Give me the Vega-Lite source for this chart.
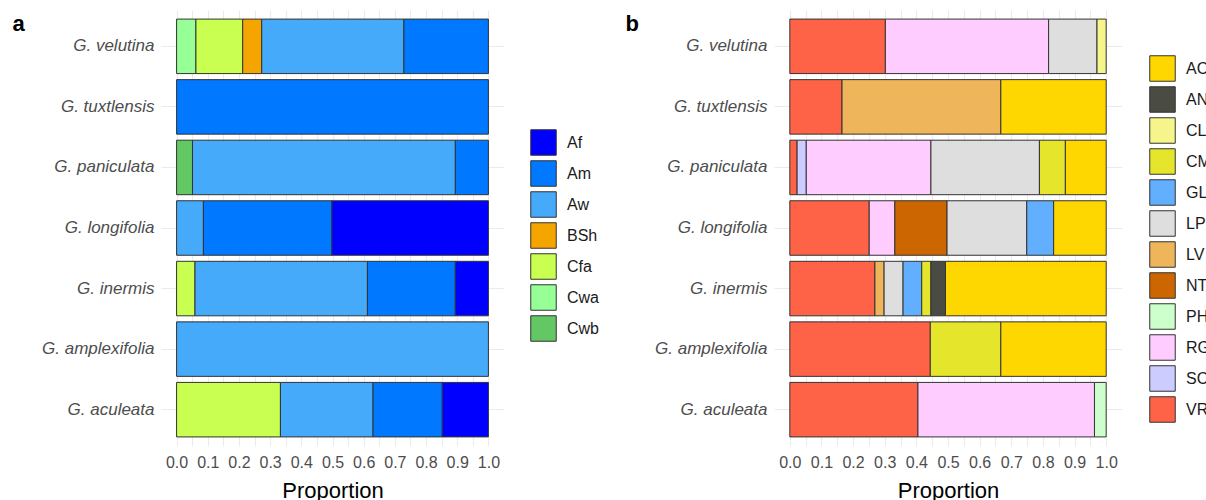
{
  "$schema": "https://vega.github.io/schema/vega-lite/v6.json",
  "background": "white",
  "padding": {"left": 12, "top": 10, "right": 0, "bottom": 0},
  "spacing": 25,
  "config": {
    "font": "Liberation Sans",
    "view": {"stroke": null},
    "axis": {"domain": false, "ticks": false, "tickSize": 0, "gridColor": "#ebebeb", "gridWidth": 1.1}
  },
  "datasets": {
    "climate": [
      {"species": "G. velutina", "climate": "Cwa", "proportion": 0.062},
      {"species": "G. velutina", "climate": "Cfa", "proportion": 0.150},
      {"species": "G. velutina", "climate": "BSh", "proportion": 0.061},
      {"species": "G. velutina", "climate": "Aw", "proportion": 0.456},
      {"species": "G. velutina", "climate": "Am", "proportion": 0.271},
      {"species": "G. tuxtlensis", "climate": "Am", "proportion": 1.0},
      {"species": "G. paniculata", "climate": "Cwb", "proportion": 0.051},
      {"species": "G. paniculata", "climate": "Aw", "proportion": 0.843},
      {"species": "G. paniculata", "climate": "Am", "proportion": 0.106},
      {"species": "G. longifolia", "climate": "Aw", "proportion": 0.086},
      {"species": "G. longifolia", "climate": "Am", "proportion": 0.412},
      {"species": "G. longifolia", "climate": "Af", "proportion": 0.502},
      {"species": "G. inermis", "climate": "Cfa", "proportion": 0.059},
      {"species": "G. inermis", "climate": "Aw", "proportion": 0.553},
      {"species": "G. inermis", "climate": "Am", "proportion": 0.282},
      {"species": "G. inermis", "climate": "Af", "proportion": 0.106},
      {"species": "G. amplexifolia", "climate": "Aw", "proportion": 1.0},
      {"species": "G. aculeata", "climate": "Cfa", "proportion": 0.333},
      {"species": "G. aculeata", "climate": "Aw", "proportion": 0.297},
      {"species": "G. aculeata", "climate": "Am", "proportion": 0.222},
      {"species": "G. aculeata", "climate": "Af", "proportion": 0.148}
    ],
    "soil": [
      {"species": "G. velutina", "soil": "VR", "proportion": 0.302},
      {"species": "G. velutina", "soil": "RG", "proportion": 0.516},
      {"species": "G. velutina", "soil": "LP", "proportion": 0.153},
      {"species": "G. velutina", "soil": "CL", "proportion": 0.029},
      {"species": "G. tuxtlensis", "soil": "VR", "proportion": 0.165},
      {"species": "G. tuxtlensis", "soil": "LV", "proportion": 0.502},
      {"species": "G. tuxtlensis", "soil": "AC", "proportion": 0.333},
      {"species": "G. paniculata", "soil": "VR", "proportion": 0.023},
      {"species": "G. paniculata", "soil": "SC", "proportion": 0.029},
      {"species": "G. paniculata", "soil": "RG", "proportion": 0.394},
      {"species": "G. paniculata", "soil": "LP", "proportion": 0.343},
      {"species": "G. paniculata", "soil": "CM", "proportion": 0.082},
      {"species": "G. paniculata", "soil": "AC", "proportion": 0.129},
      {"species": "G. longifolia", "soil": "VR", "proportion": 0.251},
      {"species": "G. longifolia", "soil": "RG", "proportion": 0.081},
      {"species": "G. longifolia", "soil": "NT", "proportion": 0.165},
      {"species": "G. longifolia", "soil": "LP", "proportion": 0.252},
      {"species": "G. longifolia", "soil": "GL", "proportion": 0.085},
      {"species": "G. longifolia", "soil": "AC", "proportion": 0.166},
      {"species": "G. inermis", "soil": "VR", "proportion": 0.269},
      {"species": "G. inermis", "soil": "LV", "proportion": 0.029},
      {"species": "G. inermis", "soil": "LP", "proportion": 0.060},
      {"species": "G. inermis", "soil": "GL", "proportion": 0.059},
      {"species": "G. inermis", "soil": "CM", "proportion": 0.029},
      {"species": "G. inermis", "soil": "AN", "proportion": 0.046},
      {"species": "G. inermis", "soil": "AC", "proportion": 0.508},
      {"species": "G. amplexifolia", "soil": "VR", "proportion": 0.444},
      {"species": "G. amplexifolia", "soil": "CM", "proportion": 0.223},
      {"species": "G. amplexifolia", "soil": "AC", "proportion": 0.333},
      {"species": "G. aculeata", "soil": "VR", "proportion": 0.405},
      {"species": "G. aculeata", "soil": "RG", "proportion": 0.558},
      {"species": "G. aculeata", "soil": "PH", "proportion": 0.037}
    ]
  },
  "hconcat": [
    {
      "width": 343,
      "height": 436,
      "data": {"name": "climate"},
      "mark": {"type": "bar", "stroke": "#333333", "strokeWidth": 1},
      "encoding": {
        "y": {
          "field": "species", "type": "nominal", "sort": "descending",
          "scale": {"paddingInner": 0.1, "paddingOuter": 0.15},
          "axis": {
            "grid": true, "bandPosition": 0.5,
            "labelFontSize": 17, "labelFontStyle": "italic", "labelColor": "#4d4d4d", "labelPadding": 7,
            "title": "a", "titleAngle": 0, "titleAlign": "left", "titleBaseline": "alphabetic",
            "titleX": -149, "titleY": 20, "titleFontSize": 22, "titleFontWeight": "bold", "titleColor": "black"
          }
        },
        "x": {
          "field": "proportion", "type": "quantitative", "stack": "zero",
          "scale": {"domain": [-0.05, 1.05], "nice": false, "zero": false},
          "axis": {
            "values": [0, 0.05, 0.1, 0.15, 0.2, 0.25, 0.3, 0.35, 0.4, 0.45, 0.5, 0.55, 0.6, 0.65, 0.7, 0.75, 0.8, 0.85, 0.9, 0.95, 1.0],
            "labelExpr": "round(datum.value * 100) % 10 == 0 ? format(datum.value, '.1f') : ''",
            "grid": true, "labelFontSize": 16, "labelColor": "#4d4d4d", "labelPadding": 8,
            "title": "Proportion", "titleFontSize": 22, "titleFontWeight": "normal", "titleColor": "black", "titlePadding": 10
          }
        },
        "color": {
          "field": "climate", "type": "nominal",
          "scale": {
            "domain": ["Af", "Am", "Aw", "BSh", "Cfa", "Cwa", "Cwb"],
            "range": ["#0000FF", "#0078FF", "#46AAFA", "#F5A500", "#C8FF50", "#96FF96", "#63C764"]
          },
          "legend": {
            "title": null, "orient": "none", "legendX": 369, "legendY": 119,
            "symbolType": "square", "symbolSize": 650, "symbolStrokeColor": "#333333", "symbolStrokeWidth": 1, "symbolOpacity": 1,
            "labelFontSize": 16, "labelColor": "#1a1a1a", "labelOffset": 10, "rowPadding": 0
          }
        },
        "order": {"field": "climate", "sort": "descending"}
      }
    },
    {
      "width": 348,
      "height": 436,
      "data": {"name": "soil"},
      "mark": {"type": "bar", "stroke": "#333333", "strokeWidth": 1},
      "encoding": {
        "y": {
          "field": "species", "type": "nominal", "sort": "descending",
          "scale": {"paddingInner": 0.1, "paddingOuter": 0.15},
          "axis": {
            "grid": true, "bandPosition": 0.5,
            "labelFontSize": 17, "labelFontStyle": "italic", "labelColor": "#4d4d4d", "labelPadding": 7,
            "title": "b", "titleAngle": 0, "titleAlign": "left", "titleBaseline": "alphabetic",
            "titleX": -149, "titleY": 20, "titleFontSize": 22, "titleFontWeight": "bold", "titleColor": "black"
          }
        },
        "x": {
          "field": "proportion", "type": "quantitative", "stack": "zero",
          "scale": {"domain": [-0.05, 1.05], "nice": false, "zero": false},
          "axis": {
            "values": [0, 0.05, 0.1, 0.15, 0.2, 0.25, 0.3, 0.35, 0.4, 0.45, 0.5, 0.55, 0.6, 0.65, 0.7, 0.75, 0.8, 0.85, 0.9, 0.95, 1.0],
            "labelExpr": "round(datum.value * 100) % 10 == 0 ? format(datum.value, '.1f') : ''",
            "grid": true, "labelFontSize": 16, "labelColor": "#4d4d4d", "labelPadding": 8,
            "title": "Proportion", "titleFontSize": 22, "titleFontWeight": "normal", "titleColor": "black", "titlePadding": 10
          }
        },
        "color": {
          "field": "soil", "type": "nominal",
          "scale": {
            "domain": ["AC", "AN", "CL", "CM", "GL", "LP", "LV", "NT", "PH", "RG", "SC", "VR"],
            "range": ["#FFD700", "#4A4B42", "#F6F58C", "#E5E52B", "#62AFFF", "#DEDEDE", "#EEB55A", "#CC6600", "#CCFFCC", "#FFCCFF", "#CCCCFF", "#FF6347"]
          },
          "legend": {
            "title": null, "orient": "none", "legendX": 375, "legendY": 45,
            "symbolType": "square", "symbolSize": 650, "symbolStrokeColor": "#333333", "symbolStrokeWidth": 1, "symbolOpacity": 1,
            "labelFontSize": 16, "labelColor": "#1a1a1a", "labelOffset": 10, "rowPadding": 0
          }
        },
        "order": {"field": "soil", "sort": "descending"}
      }
    }
  ],
  "resolve": {"scale": {"color": "independent"}, "legend": {"color": "independent"}}
}
